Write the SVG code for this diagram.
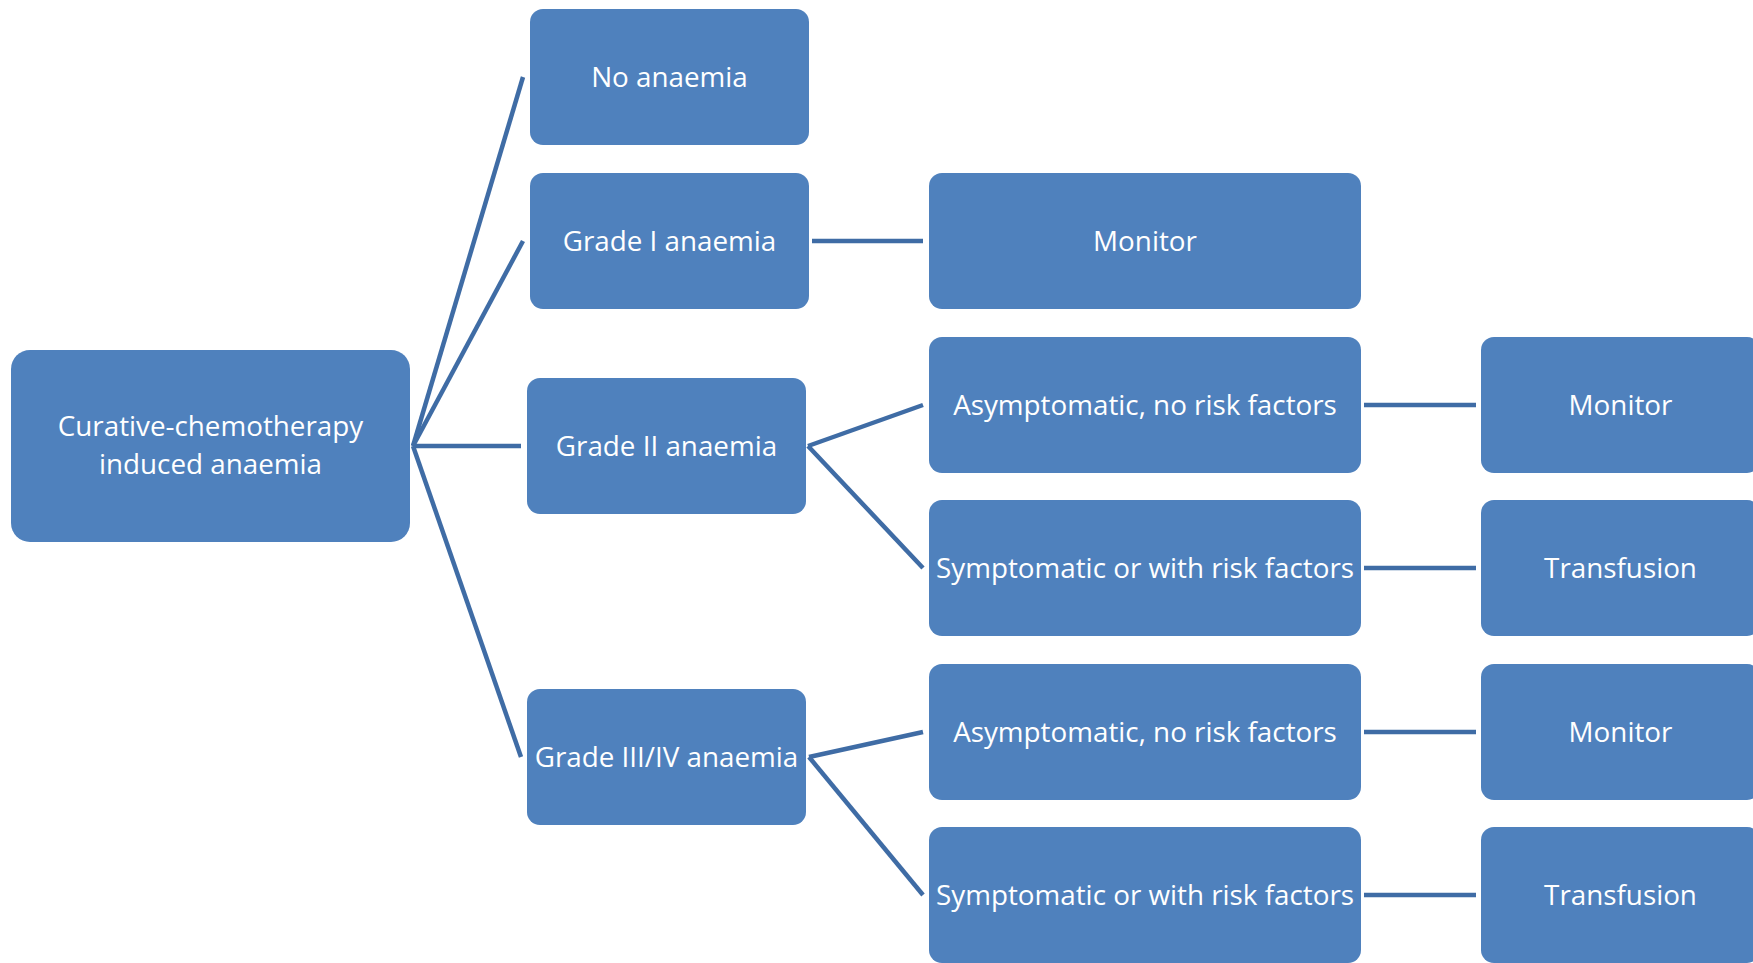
<svg xmlns="http://www.w3.org/2000/svg" width="1753" height="963" viewBox="0 0 1753 963">
  <style>
    .box { fill: #4F81BD; }
    .lbl { fill: #FFFFFF; font-family: "Open Sans", "Noto Sans", sans-serif; font-size: 27.8px; text-anchor: middle; }
    .conn { stroke: #3F6CA5; stroke-width: 4.5; fill: none; stroke-linecap: butt; }
  </style>
  <rect width="1753" height="963" fill="#FFFFFF"/>

  <!-- connectors -->
  <g id="connectors" class="conn">
    <line x1="413" y1="446" x2="523" y2="77"/>
    <line x1="413" y1="446" x2="523" y2="241"/>
    <line x1="413" y1="446" x2="521" y2="446"/>
    <line x1="413" y1="446" x2="521" y2="757"/>
    <line x1="812" y1="241" x2="923" y2="241"/>
    <line x1="808" y1="446" x2="923" y2="405"/>
    <line x1="808" y1="446" x2="923" y2="568"/>
    <line x1="809" y1="757" x2="923" y2="732"/>
    <line x1="809" y1="757" x2="923" y2="895"/>
    <line x1="1364" y1="405" x2="1476" y2="405"/>
    <line x1="1364" y1="568" x2="1476" y2="568"/>
    <line x1="1364" y1="732" x2="1476" y2="732"/>
    <line x1="1364" y1="895" x2="1476" y2="895"/>
  </g>

  <!-- root -->
  <g id="root">
    <rect class="box" x="11" y="350" width="399" height="192" rx="19"/>
    <text class="lbl" x="210.5" y="436">Curative-chemotherapy</text>
    <text class="lbl" x="210.5" y="474">induced anaemia</text>
  </g>

  <!-- grades -->
  <g id="no-anaemia">
    <rect class="box" x="530" y="9" width="279" height="136" rx="13"/>
    <text class="lbl" x="669.5" y="87">No anaemia</text>
  </g>
  <g id="grade-1">
    <rect class="box" x="530" y="173" width="279" height="136" rx="13"/>
    <text class="lbl" x="669.5" y="251">Grade I anaemia</text>
  </g>
  <g id="grade-2">
    <rect class="box" x="527" y="378" width="279" height="136" rx="13"/>
    <text class="lbl" x="666.5" y="456">Grade II anaemia</text>
  </g>
  <g id="grade-3-4">
    <rect class="box" x="527" y="689" width="279" height="136" rx="13"/>
    <text class="lbl" x="666.5" y="767">Grade III/IV anaemia</text>
  </g>

  <!-- second level -->
  <g id="monitor-g1">
    <rect class="box" x="929" y="173" width="432" height="136" rx="13"/>
    <text class="lbl" x="1145" y="251">Monitor</text>
  </g>
  <g id="asym-g2">
    <rect class="box" x="929" y="337" width="432" height="136" rx="13"/>
    <text class="lbl" x="1145" y="415">Asymptomatic, no risk factors</text>
  </g>
  <g id="sym-g2">
    <rect class="box" x="929" y="500" width="432" height="136" rx="13"/>
    <text class="lbl" x="1145" y="578">Symptomatic or with risk factors</text>
  </g>
  <g id="asym-g34">
    <rect class="box" x="929" y="664" width="432" height="136" rx="13"/>
    <text class="lbl" x="1145" y="742">Asymptomatic, no risk factors</text>
  </g>
  <g id="sym-g34">
    <rect class="box" x="929" y="827" width="432" height="136" rx="13"/>
    <text class="lbl" x="1145" y="905">Symptomatic or with risk factors</text>
  </g>

  <!-- actions -->
  <g id="monitor-g2">
    <rect class="box" x="1481" y="337" width="279" height="136" rx="13"/>
    <text class="lbl" x="1620.5" y="415">Monitor</text>
  </g>
  <g id="transfusion-g2">
    <rect class="box" x="1481" y="500" width="279" height="136" rx="13"/>
    <text class="lbl" x="1620.5" y="578">Transfusion</text>
  </g>
  <g id="monitor-g34">
    <rect class="box" x="1481" y="664" width="279" height="136" rx="13"/>
    <text class="lbl" x="1620.5" y="742">Monitor</text>
  </g>
  <g id="transfusion-g34">
    <rect class="box" x="1481" y="827" width="279" height="136" rx="13"/>
    <text class="lbl" x="1620.5" y="905">Transfusion</text>
  </g>
</svg>
